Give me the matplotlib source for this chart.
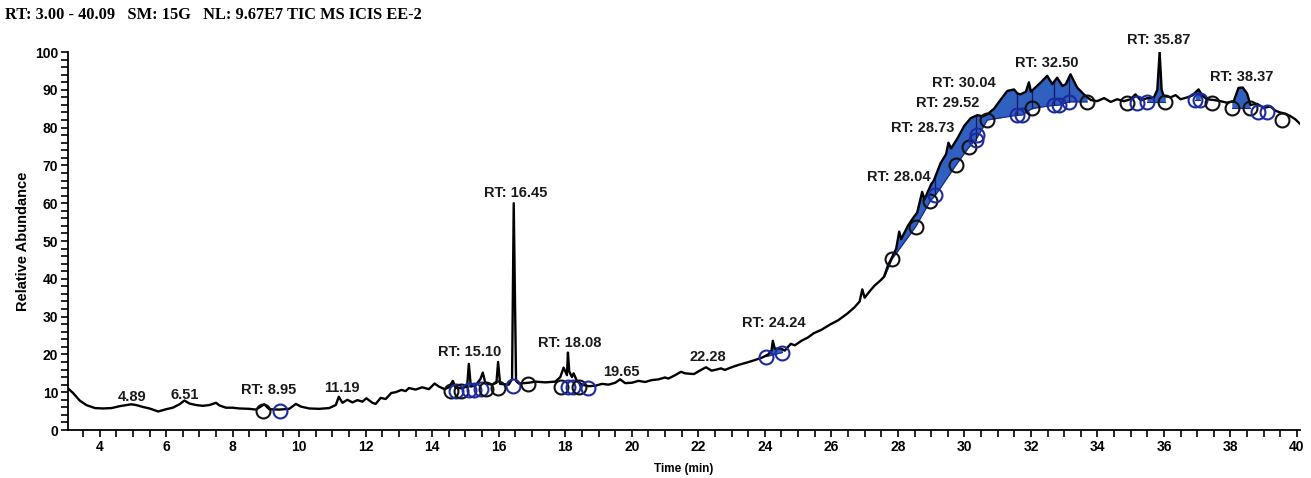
import numpy as np
import matplotlib
matplotlib.use("Agg")
import matplotlib.pyplot as plt
from matplotlib.ticker import MultipleLocator

# ---------------- data ----------------
TIME = [3.05, 3.2, 3.4, 3.6, 3.86, 4.1, 4.36, 4.6, 4.8, 4.95, 5.1, 5.3, 5.5, 5.76, 6.0, 6.2, 6.4, 6.55,
        6.7, 6.9, 7.1, 7.3, 7.5, 7.6, 7.8, 8.0, 8.2, 8.5, 8.7, 8.95, 9.1, 9.4, 9.7, 9.9, 10.05, 10.3,
        10.6, 10.9, 11.1, 11.19, 11.3, 11.45, 11.6, 11.75, 11.9, 12.02, 12.2, 12.3, 12.45, 12.6, 12.77,
        12.9, 13.07, 13.2, 13.3, 13.5, 13.7, 13.9, 14.07, 14.2, 14.37, 14.5, 14.62, 14.7, 14.9, 15.05,
        15.10, 15.16, 15.3, 15.45, 15.52, 15.6, 15.8, 15.93, 15.98, 16.04, 16.3, 16.4, 16.45, 16.52,
        16.6, 16.9, 17.1, 17.4, 17.7, 17.85, 17.95, 18.05, 18.08, 18.12, 18.2, 18.25, 18.35, 18.5, 18.7,
        18.9, 19.1, 19.3, 19.5, 19.65, 19.8, 20.0, 20.2, 20.4, 20.6, 20.8, 21.0, 21.1, 21.3, 21.48, 21.6,
        21.87, 22.0, 22.23, 22.4, 22.55, 22.68, 22.8, 23.0, 23.2, 23.48, 23.7, 23.93, 24.1, 24.2, 24.24,
        24.3, 24.48, 24.6, 24.78, 24.9, 25.1, 25.3, 25.47, 25.7, 25.98, 26.2, 26.48, 26.7, 26.85, 26.93,
        27.0, 27.18, 27.3, 27.48, 27.58, 27.7, 27.83, 27.95, 28.04, 28.1, 28.3, 28.45, 28.58, 28.73,
        28.8, 29.0, 29.08, 29.28, 29.45, 29.52, 29.6, 29.78, 30.0, 30.19, 30.39, 30.55, 30.69, 30.89,
        31.1, 31.29, 31.49, 31.6, 31.69, 31.85, 31.94, 32.0, 32.29, 32.49, 32.64, 32.79, 32.95, 33.05,
        33.19, 33.39, 33.59, 33.8, 33.99, 34.2, 34.4, 34.59, 34.8, 35.0, 35.14, 35.3, 35.5, 35.7, 35.8,
        35.87, 35.93, 35.99, 36.2, 36.35, 36.5, 36.7, 36.85, 37.04, 37.15, 37.29, 37.5, 37.7, 37.89,
        38.1, 38.24, 38.37, 38.5, 38.6, 38.8, 39.0, 39.2, 39.35, 39.49, 39.65, 39.79, 39.95, 40.09]
ABUND = [11.0, 9.8, 7.8, 6.6, 5.8, 5.7, 5.8, 6.3, 6.6, 6.8, 6.6, 6.1, 5.7, 4.9, 5.5, 5.9, 6.8, 7.8,
         7.0, 6.6, 6.4, 6.6, 7.2, 6.5, 5.9, 5.9, 5.7, 5.6, 5.4, 6.8, 5.5, 5.4, 5.6, 6.9, 6.2, 5.7,
         5.6, 5.8, 6.6, 8.8, 7.2, 8.0, 7.3, 7.9, 7.5, 8.4, 7.2, 6.9, 8.5, 8.2, 9.8,
         10.0, 10.6, 10.3, 11.1, 10.7, 11.3, 10.8, 12.3, 11.5, 10.8, 11.3, 13.0, 11.2, 11.0, 11.6,
         17.5, 11.5, 11.8, 13.5, 15.2, 12.3, 12.0, 12.5, 18.0, 12.2, 12.0, 13.5, 60.0, 13.0,
         12.3, 12.5, 12.8, 12.6, 12.8, 14.0, 16.5, 14.5, 20.5, 15.5, 14.0, 15.0, 13.0, 12.0, 11.6,
         11.7, 12.2, 12.0, 12.5, 13.4, 12.4, 12.5, 13.0, 12.7, 13.2, 13.4, 13.9, 13.6, 14.5, 15.4, 15.0,
         14.8, 15.5, 16.6, 15.7, 16.0, 16.3, 15.9, 16.6, 17.2, 17.9, 18.5, 19.2, 20.0, 21.0, 23.6,
         21.5, 21.6, 21.0, 22.8, 22.4, 23.6, 24.5, 25.6, 26.5, 28.0, 29.0, 30.8, 32.5, 34.0, 37.2,
         35.0, 37.0, 38.2, 39.6, 40.5, 43.5, 45.8, 48.0, 52.5, 50.5, 54.0, 56.0, 57.5, 63.0,
         61.0, 65.0, 66.0, 70.5, 73.0, 76.0, 74.5, 77.0, 80.5, 82.5, 83.3, 83.0, 83.5, 85.0,
         87.5, 89.7, 90.1, 89.0, 88.8, 89.5, 92.0, 89.5, 91.9, 93.7, 91.5, 93.2, 91.0, 91.5,
         94.1, 90.6, 88.8, 87.3, 87.0, 87.8, 86.8, 87.5, 87.0, 87.5, 88.8, 87.2, 87.8, 88.0, 90.0,
         100.0, 90.0, 88.4, 88.0, 88.6, 87.5, 88.0, 88.5, 90.1, 88.5, 87.5, 87.3, 87.0, 86.6,
         87.0, 90.5, 90.6, 89.0, 86.0, 86.3, 85.2, 85.6, 84.5, 84.0, 83.7, 83.1, 82.2, 81.0]

# integrated regions: baseline points (time, abundance) joining the peak boundary circles
FILL_REGIONS = [
    [(24.03, 19.4), (24.53, 20.5)],
    [(27.6, 40.5), (27.83, 45.3), (28.53, 53.7), (28.98, 60.7), (29.13, 62.1), (29.74, 70.0),
     (30.14, 74.9), (30.34, 76.7), (30.69, 82.0), (31.59, 83.3), (31.74, 83.3), (32.04, 85.1),
     (32.69, 85.9), (32.84, 85.9), (33.14, 86.8), (33.69, 86.8)],
    [(35.49, 86.8), (36.04, 86.8)],
    [(36.94, 87.3), (37.09, 87.3)],
    [(38.04, 85.1), (38.59, 85.1)],
]
# split (drop) lines inside the integrated areas
DROP_T = [29.13, 30.34, 31.59, 32.04, 32.69, 33.14]

# peak boundary markers: time, abundance, colour code (k = black, b = blue)
CIRCLE_T = [8.92, 9.41, 14.57, 14.72, 14.87, 15.12, 15.27, 15.47, 15.62, 15.97, 16.42, 16.87,
            17.87, 18.07, 18.22, 18.42, 18.67, 24.03, 24.53,
            27.83, 28.53, 28.98, 29.13, 29.74, 30.14, 30.34, 30.39, 30.69, 31.59, 31.74, 32.04,
            32.69, 32.84, 33.14, 33.69, 34.89, 35.19, 35.49, 36.04, 36.94, 37.09, 37.44, 38.04,
            38.59, 38.84, 39.09, 39.54]
CIRCLE_Y = [5.0, 5.0, 10.3, 10.3, 10.3, 10.5, 10.5, 10.8, 10.8, 11.0, 11.7, 12.2,
            11.5, 11.5, 11.5, 11.5, 11.2, 19.4, 20.5,
            45.3, 53.7, 60.7, 62.1, 70.0, 74.9, 76.7, 78.0, 82.0, 83.3, 83.3, 85.1,
            85.9, 85.9, 86.8, 86.8, 86.4, 86.4, 86.8, 86.8, 87.3, 87.3, 86.4, 85.1,
            85.1, 84.2, 84.2, 82.0]
CIRCLE_C = ["k", "b", "k", "b", "k", "b", "b", "b", "k", "k", "b", "k",
            "k", "b", "b", "k", "b", "b", "b",
            "k", "k", "k", "b", "k", "k", "b", "b", "k", "b", "b", "k",
            "b", "b", "b", "k", "k", "b", "b", "k", "b", "b", "k", "k",
            "k", "b", "b", "k"]

# peak labels: text, x (RT), y
LABELS = ["4.89", "6.51", "RT: 8.95", "11.19", "RT: 15.10", "RT: 16.45", "RT: 18.08", "19.65",
          "22.28", "RT: 24.24", "RT: 28.04", "RT: 28.73", "RT: 29.52", "RT: 30.04", "RT: 32.50",
          "RT: 35.87", "RT: 38.37"]
LABEL_X = [4.96, 6.56, 9.07, 11.27, 15.12, 16.5, 18.12, 19.7, 22.3, 24.28, 28.03, 28.74, 29.49,
           29.99, 32.49, 35.83, 38.35]
LABEL_Y = [8.8, 9.3, 10.6, 11.0, 20.7, 62.6, 22.9, 15.3, 19.4, 28.2, 67.0, 79.8, 86.4, 91.7,
           97.0, 103.2, 93.5]

HEADER = "RT: 3.00 - 40.09   SM: 15G   NL: 9.67E7 TIC MS ICIS EE-2"

# ---------------- drawing ----------------
plt.rcParams["font.family"] = ["Liberation Sans", "DejaVu Sans"]
plt.rcParams["font.weight"] = "bold"

fig = plt.figure(figsize=(13.11, 4.78), dpi=100)
ax = fig.add_axes([0.0519, 0.1004, 0.9916 - 0.0519, 0.8912 - 0.1004])

t = np.array(TIME)
a = np.array(ABUND)
FILL_COLOR = "#3060c0"

for reg in FILL_REGIONS:
    bt = np.array([p[0] for p in reg])
    by = np.array([p[1] for p in reg])
    mask = (t > bt[0]) & (t < bt[-1])
    xs = np.concatenate([[bt[0]], t[mask], [bt[-1]]])
    top = np.interp(xs, t, a)
    base = np.interp(xs, bt, by)
    ax.fill_between(xs, base, np.maximum(top, base), color=FILL_COLOR, lw=0, zorder=2)
    ax.plot(bt, by, color="#1a2a8a", lw=0.8, zorder=3)
    for d in DROP_T:
        if bt[0] < d < bt[-1]:
            ax.plot([d, d], [np.interp(d, bt, by), np.interp(d, t, a)], color="#10185a",
                    lw=0.9, zorder=3)

ax.plot(t, a, color="black", lw=1.7, zorder=4, solid_joinstyle="round")

cmap = {"k": "#111111", "b": "#1c2a9e"}
for x, y, c in zip(CIRCLE_T, CIRCLE_Y, CIRCLE_C):
    ax.plot([x], [y], marker="o", ms=10, mfc="none", mec=cmap[c], mew=1.5, zorder=5,
            clip_on=False)

for s, x, y in zip(LABELS, LABEL_X, LABEL_Y):
    ax.text(x, y, s, ha="center", va="center", fontsize=10.5, fontweight="bold",
            color="#1a1a1a", zorder=6)

ax.set_xlim(3.05, 40.09)
ax.set_ylim(0, 100)
for side in ("top", "right"):
    ax.spines[side].set_visible(False)
for side in ("left", "bottom"):
    ax.spines[side].set_linewidth(1.3)

ax.xaxis.set_major_locator(MultipleLocator(2))
ax.xaxis.set_minor_locator(MultipleLocator(0.5))
ax.yaxis.set_major_locator(MultipleLocator(10))
ax.yaxis.set_minor_locator(MultipleLocator(2))
ax.set_xticks(np.arange(4, 41, 2))
ax.tick_params(axis="both", which="both", direction="out", length=5, width=1.2,
               labelsize=10, pad=2)
for lbl in ax.get_xticklabels() + ax.get_yticklabels():
    lbl.set_fontweight("bold")

ax.set_xlabel("Time (min)", fontsize=8.5, fontweight="bold", labelpad=7)
ax.set_ylabel("Relative Abundance", fontsize=10.5, fontweight="bold", labelpad=4)

fig.text(0.004, 0.968, HEADER, fontsize=11.8, fontweight="bold",
         family=["Liberation Serif", "DejaVu Serif"], va="center", ha="left")

fig.savefig("out.png", dpi=100)
